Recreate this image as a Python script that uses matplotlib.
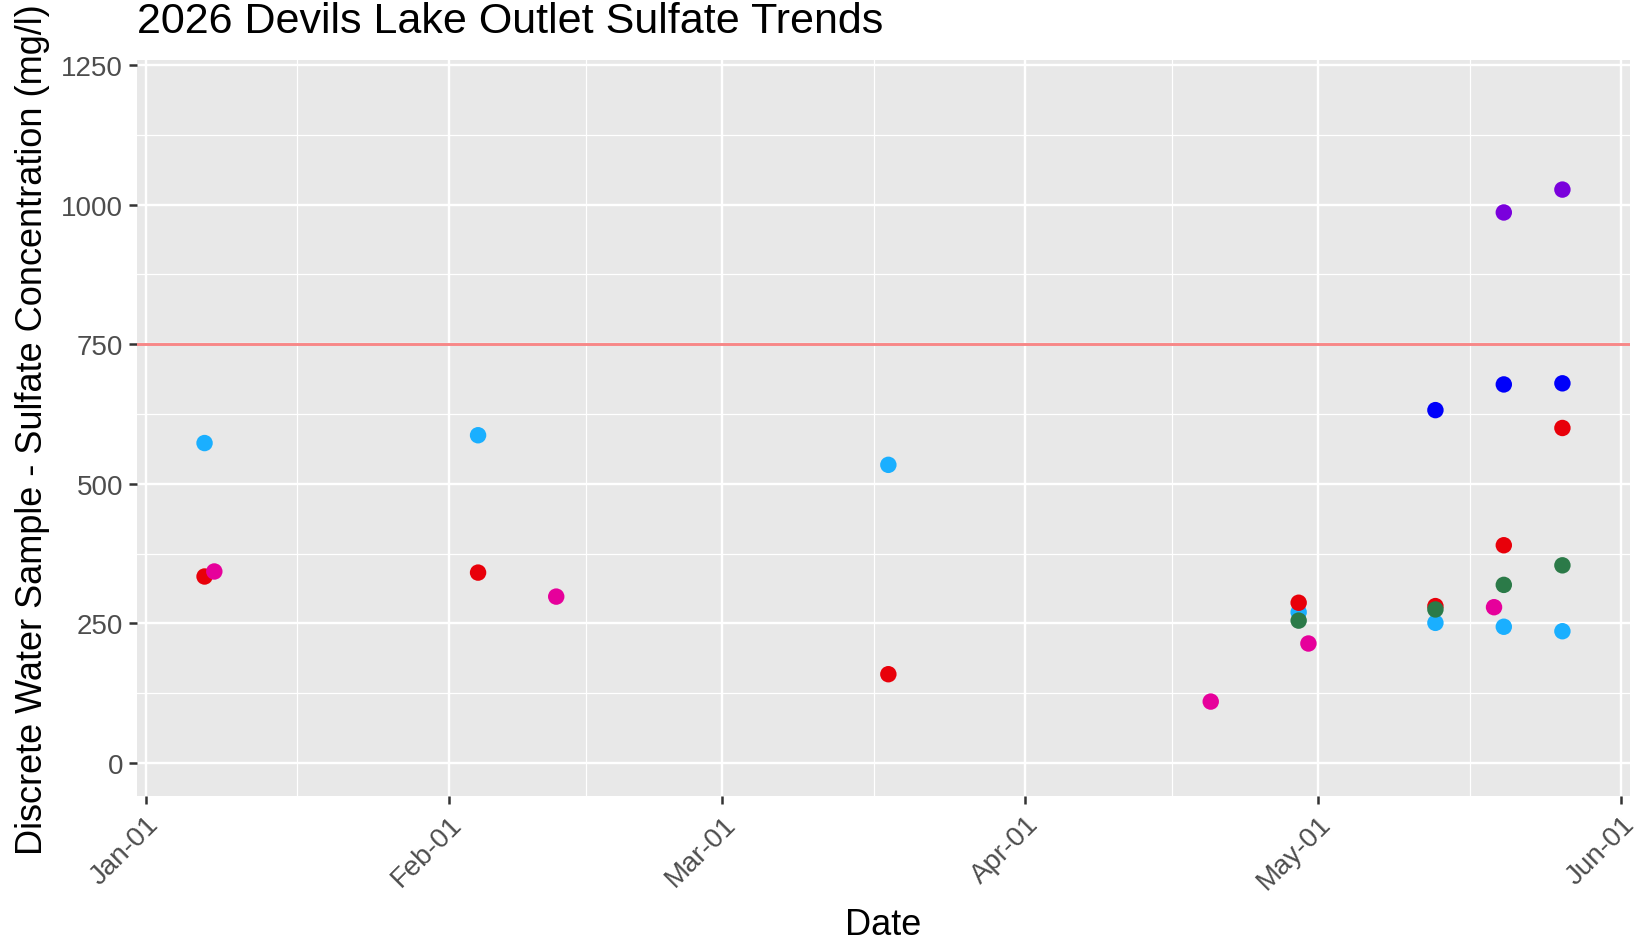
import numpy as np
import matplotlib
matplotlib.use("Agg")
import matplotlib.pyplot as plt
import matplotlib.dates as mdates
from datetime import datetime, timedelta

plt.rcParams['font.family'] = ['Liberation Sans', 'DejaVu Sans']

# sulfate samples per site (colour group), 2026
cyan_dates = ["2026-01-07", "2026-02-04", "2026-03-18", "2026-04-29", "2026-05-13", "2026-05-20", "2026-05-26"]
cyan_vals = [573, 587, 534, 270, 251, 244, 236]

red_dates = ["2026-01-07", "2026-02-04", "2026-03-18", "2026-04-29", "2026-05-13", "2026-05-20", "2026-05-26"]
red_vals = [334, 341, 159, 287, 281, 390, 600]

green_dates = ["2026-04-29", "2026-05-13", "2026-05-20", "2026-05-26"]
green_vals = [255, 275, 319, 354]

magenta_dates = ["2026-01-08", "2026-02-12", "2026-04-20", "2026-04-30", "2026-05-19"]
magenta_vals = [343, 298, 110, 214, 279]

blue_dates = ["2026-05-13", "2026-05-20", "2026-05-26"]
blue_vals = [632, 678, 680]

purple_dates = ["2026-05-20", "2026-05-26"]
purple_vals = [986, 1027]

series = [
    (cyan_dates, cyan_vals, "#1AAFFF"),
    (red_dates, red_vals, "#E8000A"),
    (green_dates, green_vals, "#2B7A48"),
    (magenta_dates, magenta_vals, "#E6009B"),
    (blue_dates, blue_vals, "#0000FA"),
    (purple_dates, purple_vals, "#7A00DC"),
]

limit_value = 750
month_breaks = ["2026-01-01", "2026-02-01", "2026-03-01", "2026-04-01", "2026-05-01", "2026-06-01"]
y_breaks = [0, 250, 500, 750, 1000, 1250]

fig = plt.figure(figsize=(16.42, 9.45), dpi=100)
ax = fig.add_axes([0.0834, 0.1561, 0.9093, 0.7793])
ax.set_facecolor("#E8E8E8")

major = [mdates.date2num(datetime.fromisoformat(d)) for d in month_breaks]
minor = [(a + b) / 2 for a, b in zip(major[:-1], major[1:])]
ax.set_xticks(major)
ax.set_xticks(minor, minor=True)
ax.set_xticklabels([datetime.fromisoformat(d).strftime("%b-%d") for d in month_breaks],
                   rotation=45, ha="right", rotation_mode="anchor")
ax.set_yticks(y_breaks)
ax.set_yticks([(a + b) / 2 for a, b in zip(y_breaks[:-1], y_breaks[1:])], minor=True)

ax.grid(which="major", color="white", lw=1.7)
ax.grid(which="minor", color="white", lw=0.9)
ax.set_axisbelow(True)
for s in ax.spines.values():
    s.set_visible(False)

ax.axhline(limit_value, color="#F78787", lw=2.1, zorder=2)

for dates, vals, col in series:
    x = [mdates.date2num(datetime.fromisoformat(d)) for d in dates]
    ax.scatter(x, vals, s=140, color=col, edgecolors="none", zorder=3)

ax.set_xlim(major[0] - 0.92, major[-1] + 0.92)
ax.set_ylim(-60, 1259)

ax.tick_params(which="major", length=6, width=1.8, color="#333333", labelcolor="#4D4D4D",
               labelsize=20, pad=4)
ax.tick_params(which="minor", length=0)

ax.set_xlabel("Date", fontsize=26, labelpad=9)
ax.set_ylabel("Discrete Water Sample - Sulfate Concentration (mg/l)", fontsize=26, labelpad=8)
ax.set_title("2026 Devils Lake Outlet Sulfate Trends", fontsize=31, loc="left", pad=20, x=0.0)

fig.savefig("out.png", dpi=100)
